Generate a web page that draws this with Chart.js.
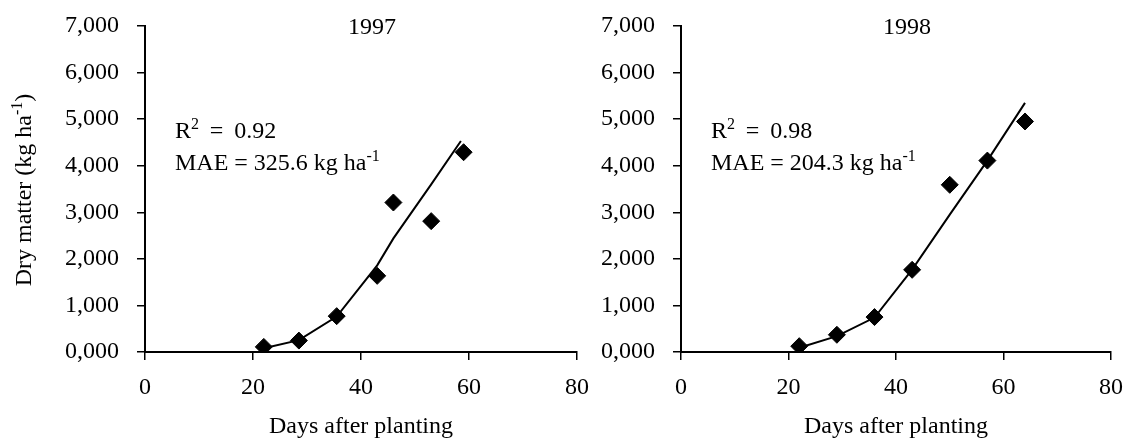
<!DOCTYPE html>
<html>
<head>
<meta charset="utf-8">
<script src="https://cdn.jsdelivr.net/npm/chart.js@4.4.0/dist/chart.umd.min.js"></script>
<style>
  html, body { margin: 0; padding: 0; background: #fff; overflow: hidden; }
  #wrap { position: relative; width: 1124px; height: 439px; }
  .box { position: absolute; top: 0; height: 439px; }
  #box97 { left: 0; width: 590px; }
  #box98 { left: 590px; width: 534px; }
</style>
</head>
<body>
<div id="wrap">
  <div class="box" id="box97"><canvas id="chart97"></canvas></div>
  <div class="box" id="box98"><canvas id="chart98"></canvas></div>
</div>
<script>
// axis ticks
var xTicks = [0, 20, 40, 60, 80];
var yTickLabels = ['0,000', '1,000', '2,000', '3,000', '4,000', '5,000', '6,000', '7,000'];

// 1997 season
var obsDays97 = [22, 28.5, 35.5, 43, 46, 53, 59];
var obsDM97   = [110, 245, 770, 1635, 3210, 2810, 4290];
var simDays97 = [22, 28.5, 35.5, 43, 46, 53, 58.5];
var simDM97   = [80, 255, 760, 1860, 2440, 3600, 4530];

// 1998 season
var obsDays98 = [22, 29, 36, 43, 50, 57, 64];
var obsDM98   = [125, 370, 750, 1765, 3590, 4110, 4950];
var simDays98 = [22, 29, 36, 43, 50, 57, 64];
var simDM98   = [90, 340, 740, 1770, 2950, 4110, 5350];

var FONT = '"Liberation Serif", "Times New Roman", serif';
var FS = 24, SUP = 16;

function pairs(xs, ys) {
    return xs.map(function (x, i) { return { x: x, y: ys[i] }; });
}

// text with superscript parts, left aligned on the baseline
function richWidth(ctx, parts) {
    var w = 0;
    parts.forEach(function (p) {
        ctx.font = (p.sup ? SUP : FS) + 'px ' + FONT;
        w += ctx.measureText(p.t).width;
    });
    return w;
}
function drawRich(ctx, parts, x, y) {
    parts.forEach(function (p) {
        ctx.font = (p.sup ? SUP : FS) + 'px ' + FONT;
        ctx.fillText(p.t, x, p.sup ? y - 9 : y);
        x += ctx.measureText(p.t).width;
    });
}

var panelText = {
    id: 'panelText',
    afterDraw: function (chart, args, opts) {
        var ctx = chart.ctx, a = chart.chartArea;
        ctx.save();
        ctx.fillStyle = '#000';
        ctx.textBaseline = 'alphabetic';

        // year label
        ctx.font = FS + 'px ' + FONT;
        ctx.textAlign = 'center';
        ctx.fillText(opts.year, (a.left + a.right) / 2 + 11, 34);

        // fit statistics
        ctx.textAlign = 'left';
        drawRich(ctx, [{ t: 'R' }, { t: '2', sup: true }, { t: ' \u2009= \u2009' + opts.r2 }], a.left + 30, 138);
        drawRich(ctx, [{ t: 'MAE = ' + opts.mae + ' kg ha' }, { t: '-1', sup: true }], a.left + 30, 170);

        // y axis title
        if (opts.yTitle) {
            var parts = [{ t: 'Dry matter (kg ha' }, { t: '-1', sup: true }, { t: ')' }];
            var w = richWidth(ctx, parts);
            ctx.translate(30.5, (a.top + a.bottom) / 2 + 1);
            ctx.rotate(-Math.PI / 2);
            drawRich(ctx, parts, -w / 2, 0);
        }
        ctx.restore();
    }
};

function makeConfig(obsX, obsY, simX, simY, yWidth, padRight, text) {
    return {
        type: 'scatter',
        data: {
            datasets: [{
                label: 'Observed',
                data: pairs(obsX, obsY),
                pointStyle: 'rectRot',
                pointRadius: 8.5,
                pointBackgroundColor: '#000',
                pointBorderColor: '#000',
                pointBorderWidth: 1,
                showLine: false
            }, {
                label: 'Simulated',
                data: pairs(simX, simY),
                showLine: true,
                borderColor: '#000',
                borderWidth: 2,
                pointRadius: 0,
                tension: 0
            }]
        },
        options: {
            responsive: true,
            maintainAspectRatio: false,
            animation: false,
            layout: { padding: { top: 26, right: padRight, bottom: 0, left: 0 } },
            plugins: {
                legend: { display: false },
                tooltip: { enabled: false },
                panelText: text
            },
            scales: {
                x: {
                    type: 'linear',
                    min: xTicks[0],
                    max: xTicks[xTicks.length - 1],
                    afterBuildTicks: function (scale) {
                        scale.ticks = xTicks.map(function (v) { return { value: v }; });
                    },
                    afterFit: function (scale) { scale.height = 87; },
                    grid: { drawOnChartArea: false, drawTicks: true, tickLength: 8, color: '#000', lineWidth: 1.5 },
                    border: { display: true, color: '#000', width: 2 },
                    // tall line height pushes the labels down without widening the side padding
                    ticks: { color: '#000', padding: 0, maxRotation: 0, font: { family: FONT, size: FS, lineHeight: 2.33 } },
                    title: {
                        display: true,
                        text: 'Days after planting',
                        color: '#000',
                        padding: 0,
                        font: { family: FONT, size: FS, lineHeight: 1 }
                    }
                },
                y: {
                    min: 0,
                    max: 7000,
                    ticks: {
                        stepSize: 1000,
                        color: '#000',
                        padding: 18,
                        font: { family: FONT, size: FS, lineHeight: 0.6 },
                        callback: function (v, i) { return yTickLabels[i]; }
                    },
                    afterFit: function (scale) { scale.width = yWidth; },
                    grid: { drawOnChartArea: false, drawTicks: true, tickLength: 8, color: '#000', lineWidth: 1.5 },
                    border: { display: true, color: '#000', width: 2 }
                }
            }
        },
        plugins: [panelText]
    };
}

new Chart(document.getElementById('chart97'),
    makeConfig(obsDays97, obsDM97, simDays97, simDM97, 145, 13,
        { year: '1997', r2: '0.92', mae: '325.6', yTitle: true }));

new Chart(document.getElementById('chart98'),
    makeConfig(obsDays98, obsDM98, simDays98, simDM98, 91, 13,
        { year: '1998', r2: '0.98', mae: '204.3', yTitle: false }));
</script>
</body>
</html>
